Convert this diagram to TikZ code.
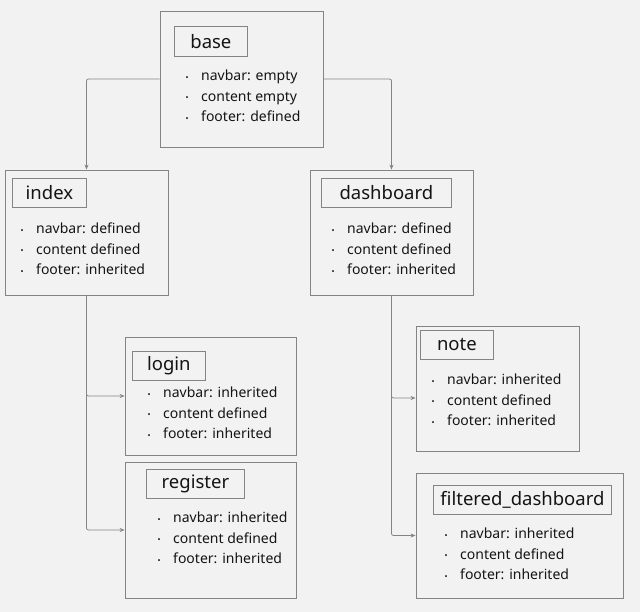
\documentclass[tikz,border=0pt]{standalone}
\usepackage{fontspec}
\setmainfont{Noto Sans}
\usetikzlibrary{arrows.meta,positioning,calc}
\definecolor{pageBg}{RGB}{242,242,242}
\definecolor{edgeGray}{RGB}{132,132,132}
\definecolor{inkText}{RGB}{20,20,20}
\newcommand{\itm}[1]{\makebox[15.5pt][l]{\raisebox{0.4pt}{\fontsize{8}{8}\selectfont •}}#1}

\begin{document}
\begin{tikzpicture}[x=1pt,y=-1pt,
  page/.style={draw=edgeGray,line width=0.8pt,inner sep=0pt},
  title/.style={draw=edgeGray,line width=0.8pt,anchor=north west,inner sep=0pt,
    minimum height=29pt,font=\fontsize{18.5}{22}\selectfont,text=inkText},
  items/.style={anchor=west,inner sep=0pt,align=left,
    font=\fontsize{14}{20.5}\selectfont,text=inkText},
  link/.style={draw=edgeGray,line width=0.8pt,rounded corners=2pt,
    -{Stealth[length=5pt,width=4pt]}}]
  \fill[pageBg] (0,0) rectangle (640,612);
  \useasboundingbox (0,0) rectangle (640,612);
  % ---- base page
  \node[page,minimum width=163pt,minimum height=136pt] (base) at (241.5,79) {};
  \node[title,minimum width=73pt,minimum height=30pt] (baseT) at (174,26) {base};
  \node[items] (baseL) at (185.5,96)
      {\itm{navbar: empty}\\\itm{content empty}\\\itm{footer: defined}};
  % ---- index page
  \node[page,minimum width=163pt,minimum height=125pt] (index) at (86.5,232.5) {};
  \node[title,minimum width=74pt] (indexT) at (12,178) {index};
  \node[items] (indexL) at (20.5,249)
      {\itm{navbar: defined}\\\itm{content defined}\\\itm{footer: inherited}};
  % ---- dashboard page
  \node[page,minimum width=163pt,minimum height=125pt] (dashboard) at (391.5,232.5) {};
  \node[title,minimum width=130pt] (dashboardT) at (321,178) {dashboard};
  \node[items] (dashboardL) at (331.5,249)
      {\itm{navbar: defined}\\\itm{content defined}\\\itm{footer: inherited}};
  % ---- login page
  \node[page,minimum width=171pt,minimum height=118pt] (login) at (210.5,396) {};
  \node[title,minimum width=73pt] (loginT) at (132,351) {login};
  \node[items] (loginL) at (147.5,413)
      {\itm{navbar: inherited}\\\itm{content defined}\\\itm{footer: inherited}};
  % ---- register page
  \node[page,minimum width=171pt,minimum height=136pt] (register) at (210.5,530) {};
  \node[title,minimum width=98pt] (registerT) at (146,469) {register};
  \node[items] (registerL) at (157.5,538)
      {\itm{navbar: inherited}\\\itm{content defined}\\\itm{footer: inherited}};
  % ---- note page
  \node[page,minimum width=163pt,minimum height=125pt] (note) at (497.5,388.5) {};
  \node[title,minimum width=73pt] (noteT) at (420,330) {note};
  \node[items] (noteL) at (431.5,400)
      {\itm{navbar: inherited}\\\itm{content defined}\\\itm{footer: inherited}};
  % ---- filtered_dashboard page
  \node[page,minimum width=207pt,minimum height=125pt] (filtered) at (519.5,535.5) {};
  \node[title,minimum width=178pt] (filteredT) at (433,485) {filtered\_dashboard};
  \node[items] (filteredL) at (444.5,554)
      {\itm{navbar: inherited}\\\itm{content defined}\\\itm{footer: inherited}};
  % ---- inheritance links
  \draw[link] (base.west) -| (index.north);
  \draw[link] (base.east) -| (dashboard.north);
  \draw[link] (index.south) |- (login.west);
  \draw[link] (index.south) |- (register.west);
  \draw[link] (dashboard.south) |- ([yshift=-9.5pt]note.west);
  \draw[link] (dashboard.south) |- (filtered.west);
\end{tikzpicture}
\end{document}
